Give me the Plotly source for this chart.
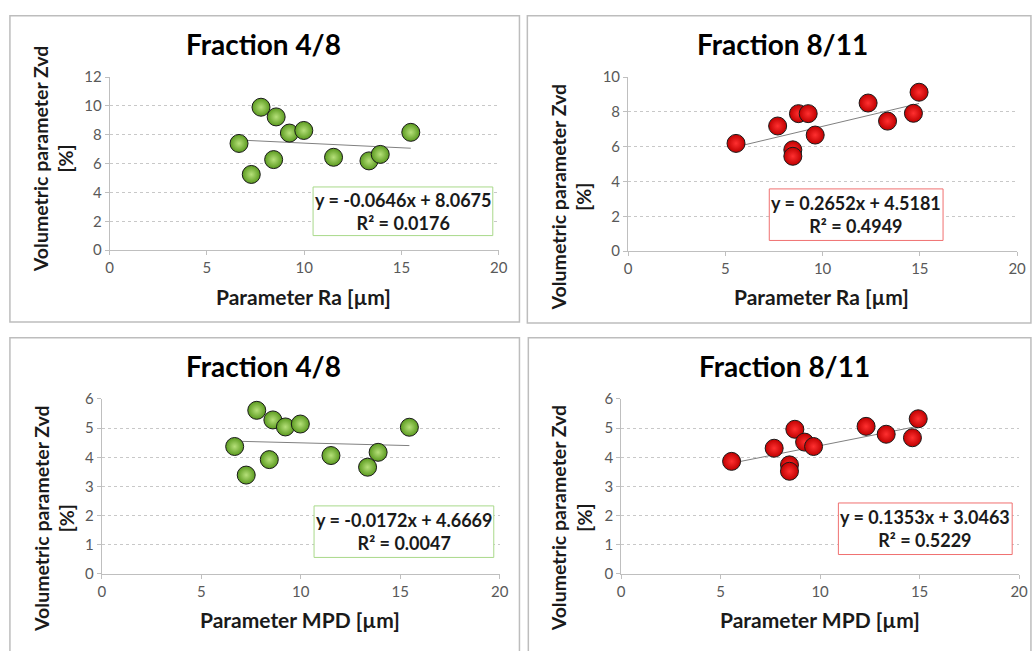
import plotly.graph_objects as go

W, H = 1035, 651

# ---- data ----
ra_48 = [6.65, 7.28, 7.78, 8.43, 8.56, 9.24, 9.98, 11.51, 13.33, 13.91, 15.48]
zvd_ra_48 = [7.40, 5.25, 9.91, 6.28, 9.24, 8.12, 8.30, 6.44, 6.19, 6.64, 8.17]

ra_811 = [5.55, 7.69, 8.47, 8.47, 8.76, 9.26, 9.62, 12.34, 13.34, 14.67, 14.96]
zvd_ra_811 = [6.19, 7.19, 5.82, 5.45, 7.90, 7.90, 6.67, 8.51, 7.47, 7.92, 9.13]

mpd_48 = [6.68, 7.26, 7.79, 8.42, 8.60, 9.23, 9.98, 11.52, 13.36, 13.89, 15.46]
zvd_mpd_48 = [4.37, 3.39, 5.61, 3.92, 5.28, 5.04, 5.14, 4.06, 3.66, 4.17, 5.03]

mpd_811 = [5.55, 7.69, 8.46, 8.46, 8.73, 9.22, 9.67, 12.31, 13.32, 14.64, 14.93]
zvd_mpd_811 = [3.86, 4.31, 3.74, 3.52, 4.96, 4.52, 4.37, 5.06, 4.79, 4.67, 5.32]

slopes = [-0.0646, 0.2652, -0.0172, 0.1353]
intercepts = [8.0675, 4.5181, 4.6669, 3.0463]
r2 = ["0.0176", "0.4949", "0.0047", "0.5229"]
titles = ["Fraction 4/8", "Fraction 8/11", "Fraction 4/8", "Fraction 8/11"]
xtitles = ["Parameter Ra [µm]", "Parameter Ra [µm]", "Parameter MPD [µm]", "Parameter MPD [µm]"]
ytitle = "Volumetric parameter Zvd<br>[%]"
y_max = [12, 10, 6, 6]
y_dtick = [2, 2, 1, 1]
x_max = 20
x_dtick = 5

series_x = [ra_48, ra_811, mpd_48, mpd_811]
series_y = [zvd_ra_48, zvd_ra_811, zvd_mpd_48, zvd_mpd_811]

# ---- styles / layout positions (pixels) ----
FONT = "Lato"
GREEN_EDGE, GREEN_CENTER, GREEN_BOX = "#5a9a1e", "#b6e07a", "#a9d98a"
RED_EDGE, RED_CENTER, RED_BOX = "#c00000", "#ff3030", "#f07070"
colors = [(GREEN_EDGE, GREEN_CENTER, GREEN_BOX), (RED_EDGE, RED_CENTER, RED_BOX),
          (GREEN_EDGE, GREEN_CENTER, GREEN_BOX), (RED_EDGE, RED_CENTER, RED_BOX)]

# plot area pixel boxes: (x_left, x_right, y_bottom, y_top)
areas = [(107, 501, 247, 69), (632, 1026, 248, 69), (99, 502, 580, 400), (625, 1028, 580, 400)]
panels = [(6, 6, 522, 321), (530, 6, 1040, 322), (6, 337, 522, 660), (531, 337, 1040, 660)]
title_pos = [(263, 35), (788, 35), (263, 366), (790, 366)]
ytitle_pos = [(49, 153), (574, 193), (50, 523), (574, 523)]
xtitle_pos = [(303, 295), (828, 295), (300, 627), (826, 627)]
eq_boxes = [(313, 182, 495, 232), (775, 184, 951, 237), (314, 510, 496, 563), (845, 507, 1021, 560)]


def px(x):
    return x / W


def py(y):
    return 1 - y / H


fig = go.Figure()
layout = dict(width=W, height=H, margin=dict(l=0, r=0, t=0, b=0),
              paper_bgcolor="white", plot_bgcolor="white", showlegend=False,
              font=dict(family=FONT, color="#000000"))
shapes, annotations = [], []

for i in range(4):
    n = "" if i == 0 else str(i + 1)
    xa, ya = "x" + n, "y" + n
    edge, center, box = colors[i]
    xs, ys = series_x[i], series_y[i]
    # trend line
    x0, x1 = min(xs), max(xs)
    fig.add_trace(go.Scatter(x=[x0, x1], y=[slopes[i] * x0 + intercepts[i], slopes[i] * x1 + intercepts[i]],
                             mode="lines", line=dict(color="#808080", width=1),
                             xaxis=xa, yaxis=ya, hoverinfo="skip"))
    fig.add_trace(go.Scatter(x=xs, y=ys, mode="markers", xaxis=xa, yaxis=ya,
                             marker=dict(size=18, color=edge,
                                         gradient=dict(type="radial", color=center),
                                         line=dict(color="#1a1a1a", width=1))))
    xl, xr, yb, yt = areas[i]
    tickfont = dict(size=15, color="#595959", family=FONT)
    layout["xaxis" + n] = dict(domain=[px(xl), px(xr)], range=[0, x_max], dtick=x_dtick,
                               anchor=ya, showgrid=False, zeroline=False,
                               showline=True, linecolor="#bfbfbf", linewidth=1,
                               ticks="outside", ticklen=4, tickcolor="#bfbfbf",
                               tickfont=tickfont, fixedrange=True)
    layout["yaxis" + n] = dict(domain=[py(yb), py(yt)], range=[0, y_max[i]], dtick=y_dtick[i],
                               anchor=xa, showgrid=True, gridcolor="#c8c8c8", griddash="dot",
                               gridwidth=1, zeroline=False,
                               showline=True, linecolor="#bfbfbf", linewidth=1,
                               ticks="outside", ticklen=4, tickcolor="#bfbfbf",
                               tickfont=tickfont, fixedrange=True)
    # panel border
    bx0, by0, bx1, by1 = panels[i]
    shapes.append(dict(type="rect", xref="paper", yref="paper",
                       x0=px(bx0), x1=px(bx1), y0=py(by1), y1=py(by0),
                       line=dict(color="#bdbdbd", width=1.5), layer="below"))
    # equation box
    ex0, ey0, ex1, ey1 = eq_boxes[i]
    shapes.append(dict(type="rect", xref="paper", yref="paper",
                       x0=px(ex0), x1=px(ex1), y0=py(ey1), y1=py(ey0),
                       line=dict(color=box, width=1), fillcolor="white", layer="above"))
    eq = f"y = {slopes[i]:.4f}x + {intercepts[i]:.4f}<br>R² = {r2[i]}"
    annotations.append(dict(text=f"<b>{eq}</b>", xref="paper", yref="paper",
                            x=px((ex0 + ex1) / 2), y=py((ey0 + ey1) / 2),
                            xanchor="center", yanchor="middle", showarrow=False,
                            font=dict(size=18, color="#1a1a1a", family=FONT)))
    # titles
    tx, ty = title_pos[i]
    annotations.append(dict(text=f"<b>{titles[i]}</b>", xref="paper", yref="paper",
                            x=px(tx), y=py(ty), xanchor="center", yanchor="middle",
                            showarrow=False, font=dict(size=28, family=FONT, color="#000000")))
    ax, ay = xtitle_pos[i]
    annotations.append(dict(text=f"<b>{xtitles[i]}</b>", xref="paper", yref="paper",
                            x=px(ax), y=py(ay), xanchor="center", yanchor="middle",
                            showarrow=False, font=dict(size=21, family=FONT, color="#1a1a1a")))
    yx, yy = ytitle_pos[i]
    annotations.append(dict(text=f"<b>{ytitle}</b>", xref="paper", yref="paper",
                            x=px(yx), y=py(yy), xanchor="center", yanchor="middle",
                            textangle=-90, showarrow=False,
                            font=dict(size=19.5, family=FONT, color="#1a1a1a")))

layout["shapes"] = shapes
layout["annotations"] = annotations
fig.update_layout(**layout)
fig.write_html("out.html", config={"displayModeBar": False})

# remove default page margin so the figure starts at the window's top-left corner
with open("out.html", "r", encoding="utf-8") as f:
    html = f.read()
html = html.replace("<head>", "<head><style>html,body{margin:0;padding:0;overflow:hidden;}</style>", 1)
with open("out.html", "w", encoding="utf-8") as f:
    f.write(html)
